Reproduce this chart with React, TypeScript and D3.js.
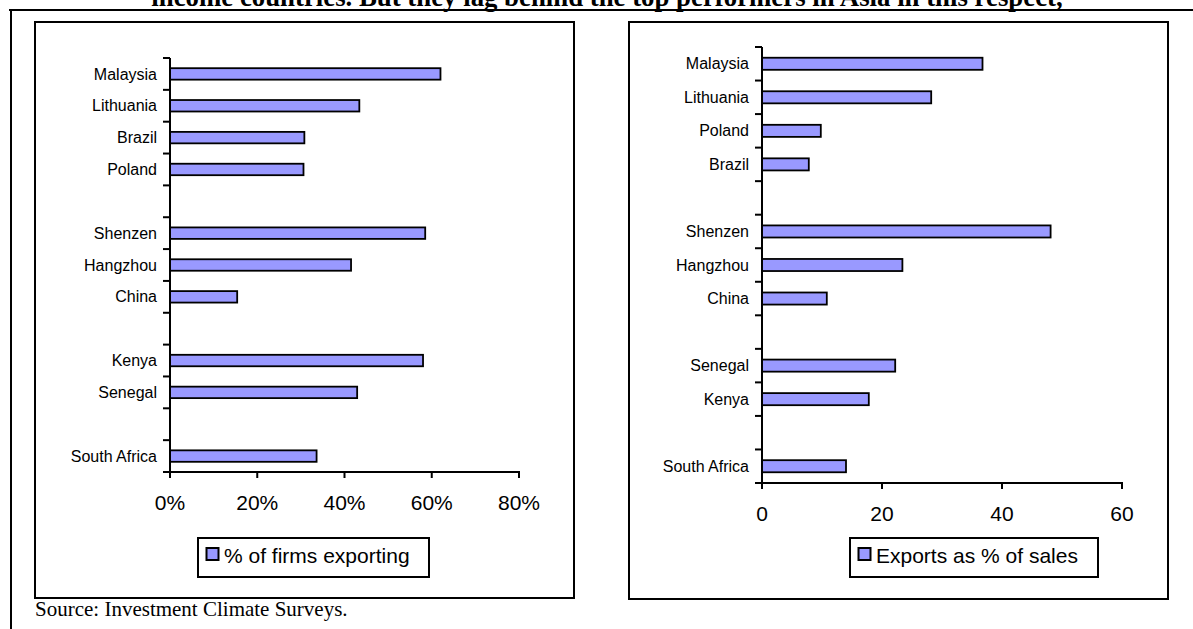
import React from "react";
import * as d3 from "d3";

const titleText =
  "income countries. But they lag behind the top performers in Asia in this respect,";
const sourceText = "Source: Investment Climate Surveys.";

// Left chart: % of firms exporting
const leftCategories = [
  "Malaysia", "Lithuania", "Brazil", "Poland", "",
  "Shenzen", "Hangzhou", "China", "",
  "Kenya", "Senegal", "",
  "South Africa",
];
const leftValues: (number | null)[] = [
  0.62, 0.434, 0.308, 0.306, null,
  0.585, 0.415, 0.154, null,
  0.58, 0.429, null,
  0.336,
];
const leftTicks = [0, 0.2, 0.4, 0.6, 0.8];
const leftLegend = "% of firms exporting";

// Right chart: Exports as % of sales
const rightCategories = [
  "Malaysia", "Lithuania", "Poland", "Brazil", "",
  "Shenzen", "Hangzhou", "China", "",
  "Senegal", "Kenya", "",
  "South Africa",
];
const rightValues: (number | null)[] = [
  36.75, 28.2, 9.8, 7.8, null,
  48.1, 23.4, 10.8, null,
  22.2, 17.8, null,
  14.0,
];
const rightTicks = [0, 20, 40, 60];
const rightLegend = "Exports as % of sales";

const SANS = "'Liberation Sans', Arial, Helvetica, sans-serif";
const SERIF = "'Liberation Serif', 'Times New Roman', serif";
const BAR_FILL = "#9999FF";

type ChartProps = {
  box: { x: number; y: number; w: number; h: number };
  plot: { x0: number; x1: number; y0: number; y1: number };
  categories: string[];
  values: (number | null)[];
  ticks: number[];
  tickFormat: (v: number) => string;
  legendText: string;
  legend: { x: number; y: number; w: number; h: number };
};

function BarChart(p: ChartProps) {
  const x = d3
    .scaleLinear()
    .domain([p.ticks[0], p.ticks[p.ticks.length - 1]])
    .range([p.plot.x0, p.plot.x1]);
  const y = d3
    .scaleBand<number>()
    .domain(d3.range(p.categories.length))
    .range([p.plot.y0, p.plot.y1])
    .paddingInner(0)
    .paddingOuter(0);
  const step = y.step();
  const barH = step * 0.36;
  const boundaries = d3.range(p.categories.length + 1).map((i) => p.plot.y0 + i * step);

  return (
    <g>
      <rect
        x={p.box.x}
        y={p.box.y}
        width={p.box.w}
        height={p.box.h}
        fill="#fff"
        stroke="#000"
        strokeWidth={2}
      />
      {/* bars */}
      {p.values.map((v, i) =>
        v == null ? null : (
          <rect
            key={"b" + i}
            x={x(0)}
            y={(y(i) as number) + step / 2 - barH / 2}
            width={x(v) - x(0)}
            height={barH}
            fill={BAR_FILL}
            stroke="#000"
            strokeWidth={1.8}
          />
        )
      )}
      {/* category axis */}
      <line x1={p.plot.x0} x2={p.plot.x0} y1={p.plot.y0} y2={p.plot.y1 + 1} stroke="#000" strokeWidth={2} />
      {boundaries.map((b, i) => (
        <line key={"ct" + i} x1={p.plot.x0 - 7} x2={p.plot.x0} y1={b} y2={b} stroke="#000" strokeWidth={2} />
      ))}
      {p.categories.map((c, i) =>
        c ? (
          <text
            key={"cl" + i}
            x={p.plot.x0 - 13}
            y={(y(i) as number) + step / 2}
            dy="0.35em"
            textAnchor="end"
            fontFamily={SANS}
            fontSize={16}
            fill="#000"
          >
            {c}
          </text>
        ) : null
      )}
      {/* value axis */}
      <line x1={p.plot.x0 - 1} x2={p.plot.x1 + 1} y1={p.plot.y1} y2={p.plot.y1} stroke="#000" strokeWidth={2} />
      {p.ticks.map((t, i) => (
        <g key={"vt" + i}>
          <line x1={x(t)} x2={x(t)} y1={p.plot.y1} y2={p.plot.y1 + 6} stroke="#000" strokeWidth={2} />
          <text
            x={x(t)}
            y={p.plot.y1 + 38}
            textAnchor="middle"
            fontFamily={SANS}
            fontSize={21}
            fill="#000"
          >
            {p.tickFormat(t)}
          </text>
        </g>
      ))}
      {/* legend */}
      <rect
        x={p.legend.x}
        y={p.legend.y}
        width={p.legend.w}
        height={p.legend.h}
        fill="#fff"
        stroke="#000"
        strokeWidth={2}
      />
      <rect
        x={p.legend.x + 8.5}
        y={p.legend.y + 10}
        width={12}
        height={12}
        fill={BAR_FILL}
        stroke="#000"
        strokeWidth={2}
      />
      <text
        x={p.legend.x + 26}
        y={p.legend.y + 24.5}
        fontFamily={SANS}
        fontSize={21}
        fill="#000"
      >
        {p.legendText}
      </text>
    </g>
  );
}

export default function App() {
  const pct = d3.format(".0%");
  const num = d3.format("d");
  return (
    <svg
      width={1193}
      height={629}
      style={{ position: "absolute", left: 0, top: 0, background: "#fff" }}
    >
      <rect x={0} y={0} width={1193} height={629} fill="#fff" />
      <text
        x={607}
        y={6}
        textAnchor="middle"
        fontFamily={SERIF}
        fontWeight="bold"
        fontSize={26.8}
        fill="#000"
      >
        {titleText}
      </text>
      <rect x={9} y={9} width={1184} height={2} fill="#000" />
      <rect x={10} y={9} width={2} height={620} fill="#000" />

      <BarChart
        box={{ x: 35, y: 22, w: 539, h: 576 }}
        plot={{ x0: 170, x1: 519, y0: 58, y1: 472 }}
        categories={leftCategories}
        values={leftValues}
        ticks={leftTicks}
        tickFormat={(v) => pct(v)}
        legendText={leftLegend}
        legend={{ x: 198, y: 538, w: 231, h: 39 }}
      />
      <BarChart
        box={{ x: 629, y: 22, w: 539, h: 577 }}
        plot={{ x0: 762, x1: 1122, y0: 47, y1: 483 }}
        categories={rightCategories}
        values={rightValues}
        ticks={rightTicks}
        tickFormat={(v) => num(v)}
        legendText={rightLegend}
        legend={{ x: 850, y: 538, w: 248, h: 39 }}
      />

      <text x={35} y={616} fontFamily={SERIF} fontSize={21} fill="#000">
        {sourceText}
      </text>
    </svg>
  );
}
